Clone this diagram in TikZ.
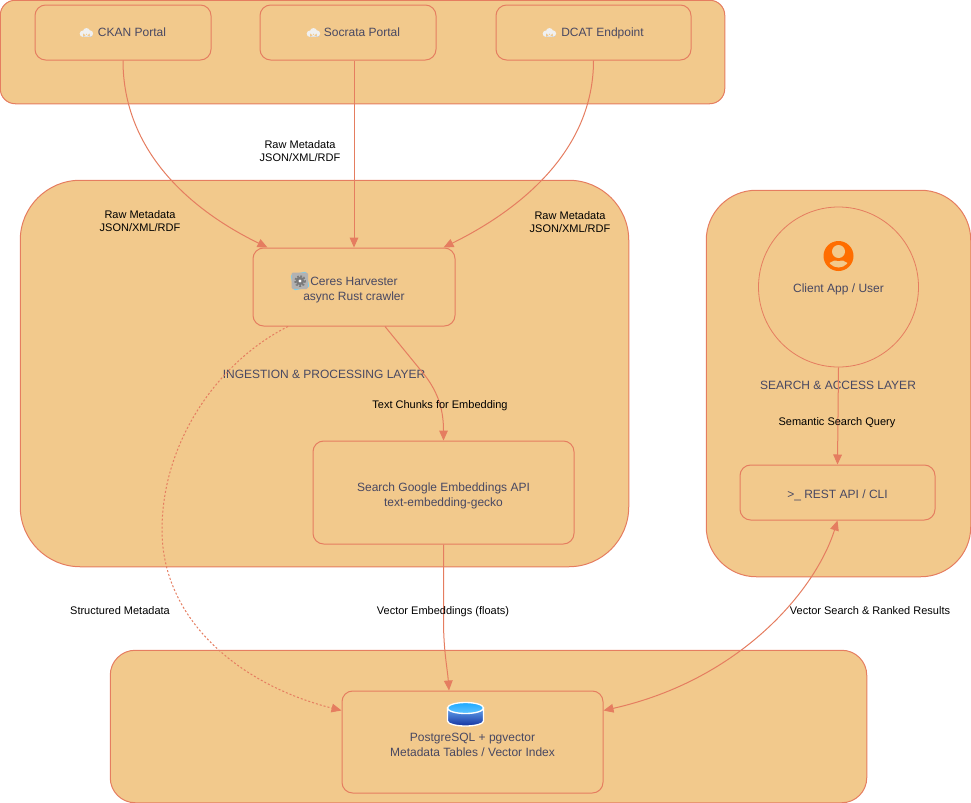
\documentclass[tikz,border=0pt]{standalone}
\usepackage{fontspec}
\setmainfont{Liberation Sans}
\usetikzlibrary{arrows.meta,calc}
\definecolor{groupfill}{RGB}{242,201,140}
\definecolor{linecol}{RGB}{229,125,96}
\definecolor{labelcol}{RGB}{72,72,98}
\definecolor{usercol}{RGB}{255,109,0}
\definecolor{dbtop}{RGB}{30,170,255}
\definecolor{dbmid}{RGB}{100,165,240}
\definecolor{dbdark}{RGB}{20,50,160}
\tikzset{
    %Define standard arrow tip
    >={Triangle[length=7.5pt,width=6.5pt]},
    group/.style 2 args={draw=linecol, fill=groupfill, line width=0.75pt, rounded corners=#2*0.75pt, minimum width=#1*0.75pt, inner sep=0pt},
    box/.style 2 args={draw=linecol, line width=0.75pt, rounded corners=8pt, minimum width=#1*0.75pt, minimum height=#2*0.75pt, inner sep=0pt, align=center, text=labelcol, font=\fontsize{9}{11.2}\selectfont, execute at begin node={\rule[-2pt]{0pt}{10pt}}},
    layer/.style={text=labelcol, font=\fontsize{9}{11.2}\selectfont},
    edgelabel/.style={align=center, text=black, font=\fontsize{8.25}{9.8}\selectfont},
    link/.style={draw=linecol, line width=0.75pt}
}
\def\iconGap{\hspace*{13.5pt}}
\def\cloudIcon#1{
    \begin{scope}[shift={#1}]
        \fill[black!22] (-5,3.4) rectangle (5,4.6);
        \fill[white!94!black] (-3.6,1.2) circle (3.2) (3.4,1) circle (3.2) (0,-0.9) circle (3.6) (-3.6,1.2) rectangle (3.4,4.2);
    \end{scope}
}
\def\gearIcon#1{
    \begin{scope}[shift={#1}]
        \fill[cyan!55, rotate=12, rounded corners=1pt] (-8,-8) rectangle (8,8);
        \fill[black!30, rounded corners=1pt] (-8.5,-8.5) rectangle (8,8);
        \draw[black!52, line width=1.5pt, dash pattern=on 1.3pt off 1.2pt] (0,0) circle (5);
        \fill[black!52] (0,0) circle (4.2);
        \fill[white] (0,0) circle (1.6);
    \end{scope}
}
\def\userIcon#1{
    \begin{scope}[shift={#1}]
        \fill[usercol] (0,0) circle (15);
        \begin{scope}
            \clip (0,0) circle (11.5);
            \fill[groupfill] (0,13) ellipse (12 and 9);
        \end{scope}
        \fill[groupfill] (0,-4.5) circle (6.5);
        \draw[usercol, line width=0.9pt] (-5,2.5) .. controls (-3,5) and (3,5) .. (5,2.5);
    \end{scope}
}
\def\dbIcon#1{
    \begin{scope}[shift={#1}]
        \draw[white, line width=1pt, top color=dbmid, bottom color=dbdark] (-18,-6) -- (-18,7) arc[start angle=180, end angle=0, x radius=18, y radius=5] -- (18,-6) -- cycle;
        \draw[white, line width=1pt, top color=dbtop, bottom color=dbtop!70!white] (0,-6) ellipse (18 and 5.5);
    \end{scope}
}

\begin{document}
\begin{tikzpicture}[x=0.75pt,y=-0.75pt]
    \useasboundingbox (0,0) rectangle (971,803);

    % layers
    \node[group={724.5}{15}, minimum height=103.5*0.75pt] (sources) at (362.5,52) {};
    \node[group={608.5}{60}, minimum height=386.5*0.75pt] (ingest) at (324.5,373.5) {};
    \node[group={264.5}{50}, minimum height=386.5*0.75pt] (access) at (838.5,383.5) {};
    \node[group={756.5}{25}, minimum height=152.5*0.75pt] (storage) at (488.5,726.5) {};

    % sources
    \node[box={176}{55}] (ckan) at (123,32.5) {\iconGap CKAN Portal};
    \node[box={176}{55}] (socrata) at (348,32.5) {\hspace*{21pt}Socrata Portal};
    \node[box={195}{55}] (dcat) at (593.5,32.5) {\iconGap DCAT Endpoint};
    \cloudIcon{($(ckan)+(-36.5,0)$)}
    \cloudIcon{($(socrata)+(-34.5,0)$)}
    \cloudIcon{($(dcat)+(-44,0)$)}

    % ingestion
    \node[box={202}{78}] (harvester) at (354,287) {\rule{0pt}{11pt}Ceres Harvester\\async Rust crawler};
    \gearIcon{($(harvester)+(-54,-6)$)}
    \node[box={261}{103}] (embed) at (443.5,492.5) {\rule{0pt}{11.5pt}Search Google Embeddings API\\text-embedding-gecko};
    \node[layer] (ingestlabel) at (324,374) {INGESTION \& PROCESSING LAYER};

    % access
    \node[draw=linecol, line width=0.6pt, circle, minimum size=160*0.75pt, inner sep=0pt, text=labelcol, font=\fontsize{9}{11.2}\selectfont] (client) at (838.5,287) {\rule{0pt}{9.5pt}Client App / User};
    \userIcon{($(client)+(0,-31)$)}
    \node[layer] (accesslabel) at (838,385) {SEARCH \& ACCESS LAYER};
    \node[box={195}{55}] (rest) at (837.5,492.5) {\rule{0pt}{11.5pt}>\_ REST API / CLI};

    % storage
    \node[box={261}{102}] (postgres) at (472.5,742) {\rule{0pt}{12pt}PostgreSQL + pgvector\\Metadata Tables / Vector Index};
    \dbIcon{($(postgres)+(-7,-28)$)}

    % connectors
    \draw[link,->] (ckan.south) .. controls +(0,90) and ($(harvester.north west)+(-63,-38)$) .. ($(harvester.north west)+(15,0)$);
    \draw[link,->] (socrata.south -| harvester.north) -- (harvester.north);
    \draw[link,->] (dcat.south) .. controls +(0,90) and ($(harvester.north east)+(65,-38)$) .. ($(harvester.north east)+(-12,0)$);
    \draw[link,->] ($(harvester.south)+(31,0)$) -- ++(40,49) .. controls +(13,17) and ($(embed.north)+(0,-31)$) .. (embed.north);
    \draw[link,->] (embed.south) -- ++(0,76) .. controls +(0,30) and ($(postgres.north)+(-25,-21)$) .. ($(postgres.north)+(-23.5,0)$);
    \draw[link,->,dash pattern=on 1.5pt off 1.5pt] ($(harvester.south)+(-66,0)$) .. controls +(-68,34) and (162,440) .. (162,530) .. controls (162,620) and (240,685) .. ($(postgres.north west)+(0,20)$);
    \draw[link,->] (client.south) -- (rest.north);
    \draw[link,<->] (rest.south) .. controls +(-22,70) and (740,680) .. ($(postgres.north east)+(0,20)$);

    % labels
    \node[edgelabel] (rawa) at (140,221.5) {Raw Metadata\\JSON/XML/RDF};
    \node[edgelabel] (rawb) at (300,151.5) {Raw Metadata\\JSON/XML/RDF};
    \node[edgelabel] (rawc) at (570,222.5) {Raw Metadata\\JSON/XML/RDF};
    \node[edgelabel] (chunks) at (440,405.5) {Text Chunks for Embedding};
    \node[edgelabel] (query) at (837,422.5) {Semantic Search Query};
    \node[edgelabel] (structured) at (120,611) {Structured Metadata};
    \node[edgelabel] (vectors) at (443,612) {Vector Embeddings (floats)};
    \node[edgelabel] (ranked) at (870,611) {Vector Search \& Ranked Results};
\end{tikzpicture}
\end{document}
